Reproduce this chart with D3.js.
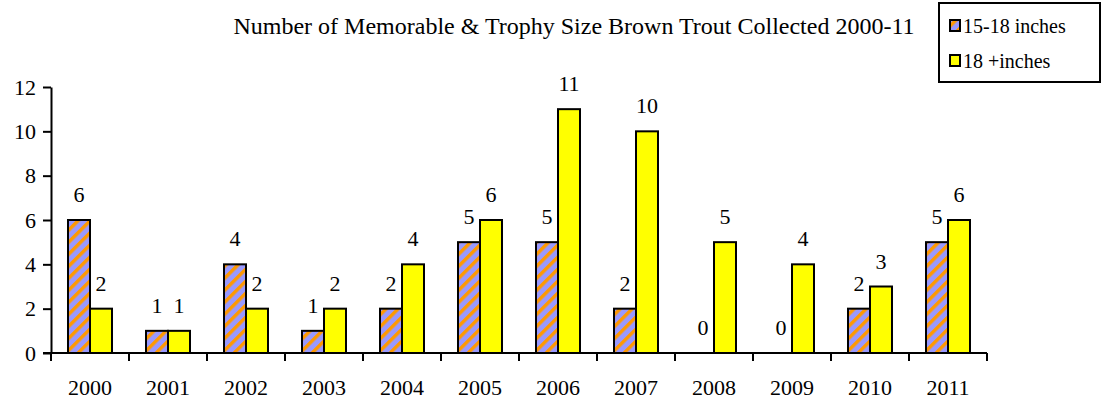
<!DOCTYPE html>
<html>
<head>
<meta charset="utf-8">
<script src="https://cdn.jsdelivr.net/npm/d3@7"></script>
<style>
  body { margin: 0; background: #fff; }
  text { font-family: "Liberation Serif", "Times New Roman", serif; fill: #000; }
</style>
</head>
<body>
<svg id="chart"></svg>
<script>
const years = ["2000", "2001", "2002", "2003", "2004", "2005", "2006", "2007", "2008", "2009", "2010", "2011"];
const medium = [6, 1, 4, 1, 2, 5, 5, 2, 0, 0, 2, 5];   // 15-18 inches
const large = [2, 1, 2, 2, 4, 6, 11, 10, 5, 4, 3, 6];   // 18 +inches
const seriesNames = ["15-18 inches", "18 +inches"];
const yTicks = [0, 2, 4, 6, 8, 10, 12];

const width = 1102, height = 402;
const svg = d3.select("#chart").attr("width", width).attr("height", height);

const defs = svg.append("defs");
const pat = defs.append("pattern")
  .attr("id", "stripes")
  .attr("patternUnits", "userSpaceOnUse")
  .attr("width", 8.5).attr("height", 8.5)
  .attr("patternTransform", "rotate(45)");
pat.append("rect").attr("width", 8.5).attr("height", 8.5).attr("fill", "#9999ff");
pat.append("rect").attr("width", 3.4).attr("height", 8.5).attr("fill", "#ff9900");

const plotL = 51, plotR = 987, plotT = 87, plotB = 353;

const x = d3.scaleBand().domain(years).range([plotL, plotR]).paddingInner(0).paddingOuter(0);
const inner = d3.scaleBand().domain(seriesNames).range([0, 44]);
const y = d3.scaleLinear().domain([0, 12]).range([plotB, plotT]);

// title
svg.append("text")
  .attr("x", 574).attr("y", 34)
  .attr("text-anchor", "middle")
  .style("font-size", "24px")
  .text("Number of Memorable & Trophy Size Brown Trout Collected 2000-11");

// bars
const data = years.map((yr, i) => ({ year: yr, values: [medium[i], large[i]] }));
const groups = svg.selectAll(".grp")
  .data(data)
  .enter().append("g")
  .attr("transform", d => `translate(${x(d.year) + (x.bandwidth() - 44) / 2},0)`);

groups.selectAll("rect")
  .data(d => d.values.map((v, k) => ({ v, k })).filter(d => d.v > 0))
  .enter().append("rect")
  .attr("x", d => inner(seriesNames[d.k]))
  .attr("y", d => y(d.v))
  .attr("width", inner.bandwidth())
  .attr("height", d => y(0) - y(d.v))
  .attr("fill", d => d.k === 0 ? "url(#stripes)" : "#ffff00")
  .attr("stroke", "#000")
  .attr("stroke-width", 2);

groups.selectAll(".lbl")
  .data(d => d.values.map((v, k) => ({ v, k })))
  .enter().append("text")
  .attr("x", d => inner(seriesNames[d.k]) + inner.bandwidth() / 2)
  .attr("y", d => y(d.v) - 18)
  .attr("text-anchor", "middle")
  .style("font-size", "22px")
  .text(d => d.v);

// y axis
const yAxis = svg.append("g")
  .attr("transform", `translate(${plotL},0)`)
  .call(d3.axisLeft(y).tickValues(yTicks).tickSize(8).tickSizeOuter(0).tickPadding(7));
yAxis.select(".domain").attr("stroke-width", 2);
yAxis.selectAll(".tick line").attr("stroke-width", 2);
yAxis.selectAll(".tick text").style("font-size", "22px").style("font-family", "Liberation Serif, serif");

// x axis with ticks at category boundaries
const xg = svg.append("g").attr("transform", `translate(0,${plotB})`);
xg.append("line").attr("x1", plotL - 8).attr("x2", plotR).attr("stroke", "#000").attr("stroke-width", 2);
const bounds = years.map(d => x(d)).concat([plotR]);
xg.selectAll(".xt").data(bounds).enter().append("line")
  .attr("x1", d => d).attr("x2", d => d).attr("y1", 0).attr("y2", 8)
  .attr("stroke", "#000").attr("stroke-width", 2);
xg.selectAll(".xl").data(years).enter().append("text")
  .attr("x", d => x(d) + x.bandwidth() / 2)
  .attr("y", 42)
  .attr("text-anchor", "middle")
  .style("font-size", "22px")
  .text(d => d);

// legend
const lg = svg.append("g");
lg.append("rect").attr("x", 939).attr("y", 3).attr("width", 161).attr("height", 79)
  .attr("fill", "#fff").attr("stroke", "#000").attr("stroke-width", 2);
seriesNames.forEach((name, k) => {
  const base = 33 + k * 35;
  lg.append("rect").attr("x", 950).attr("y", base - 13).attr("width", 10).attr("height", 11)
    .attr("fill", k === 0 ? "url(#stripes)" : "#ffff00")
    .attr("stroke", "#000").attr("stroke-width", 2);
  lg.append("text").attr("x", 963).attr("y", base)
    .style("font-size", "20px")
    .text(name);
});
</script>
</body>
</html>
